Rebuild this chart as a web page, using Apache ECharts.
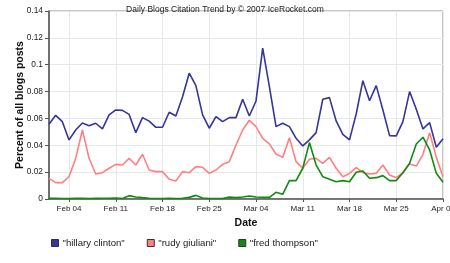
<!DOCTYPE html>
<html>
<head>
<meta charset="utf-8">
<script src="https://cdn.jsdelivr.net/npm/echarts@6/dist/echarts.min.js"></script>
<style>
html,body{margin:0;padding:0;background:#fff;}
#chart{width:450px;height:263px;}
</style>
</head>
<body>
<div id="chart"></div>
<script>
var dates = ["Feb 01","Feb 02","Feb 03","Feb 04","Feb 05","Feb 06","Feb 07","Feb 08","Feb 09","Feb 10",
"Feb 11","Feb 12","Feb 13","Feb 14","Feb 15","Feb 16","Feb 17","Feb 18","Feb 19","Feb 20",
"Feb 21","Feb 22","Feb 23","Feb 24","Feb 25","Feb 26","Feb 27","Feb 28","Mar 01","Mar 02",
"Mar 03","Mar 04","Mar 05","Mar 06","Mar 07","Mar 08","Mar 09","Mar 10","Mar 11","Mar 12",
"Mar 13","Mar 14","Mar 15","Mar 16","Mar 17","Mar 18","Mar 19","Mar 20","Mar 21","Mar 22",
"Mar 23","Mar 24","Mar 25","Mar 26","Mar 27","Mar 28","Mar 29","Mar 30","Mar 31","Apr 01"];

var tickLabels = ["Feb 04","Feb 11","Feb 18","Feb 25","Mar 04","Mar 11","Mar 18","Mar 25","Apr 01"];

var seriesNames = ["\"hillary clinton\"","\"rudy giuliani\"","\"fred thompson\""];

var clinton = [0.0557,0.0623,0.0576,0.044,0.0514,0.0566,0.0546,0.0564,0.0522,0.0626,
0.0663,0.066,0.063,0.0494,0.0606,0.058,0.0534,0.0534,0.0646,0.0618,
0.0762,0.0937,0.0844,0.0626,0.0527,0.0613,0.0576,0.0606,0.0606,0.0743,
0.0618,0.073,0.1123,0.0837,0.0539,0.0564,0.0539,0.0452,0.0395,0.044,
0.0494,0.0743,0.0755,0.0581,0.0482,0.044,0.0633,0.0881,0.0732,0.0844,
0.0663,0.0472,0.047,0.0576,0.08,0.0668,0.0522,0.0569,0.0385,0.0449];

var giuliani = [0.0154,0.0122,0.0122,0.0166,0.0303,0.0514,0.0303,0.0186,0.0196,0.0229,
0.0258,0.0253,0.0303,0.0253,0.0333,0.0216,0.0204,0.0204,0.0147,0.0134,
0.0204,0.0196,0.0241,0.0236,0.0191,0.0216,0.0258,0.0278,0.0402,0.0514,
0.0586,0.0539,0.0452,0.041,0.0335,0.031,0.0457,0.0278,0.0229,0.0296,
0.0303,0.0266,0.031,0.0229,0.0166,0.0191,0.0233,0.0196,0.0186,0.0191,
0.0253,0.0179,0.0159,0.0196,0.026,0.0245,0.0333,0.0494,0.031,0.0166];

var thompson = [0.0005,0.0005,0.0004,0.0004,0.0005,0.0005,0.0004,0.0005,0.0006,0.0006,
0.0008,0.0004,0.0025,0.0015,0.001,0.0006,0.0004,0.0004,0.0005,0.0004,
0.0005,0.0012,0.0027,0.0008,0.0004,0.0004,0.0004,0.0014,0.001,0.0015,
0.0022,0.0015,0.0013,0.0012,0.005,0.0035,0.0137,0.0137,0.0229,0.042,
0.0253,0.0166,0.0147,0.0129,0.0137,0.0129,0.0199,0.0209,0.0154,0.0159,
0.0174,0.0137,0.0137,0.0196,0.0266,0.041,0.046,0.0365,0.0191,0.0124];

var colors = ["#35359b","#ff8080","#118a11"];
var FONT = "Liberation Sans";

function isTick(i){ return tickLabels.indexOf(dates[i]) >= 0; }

var chart = echarts.init(document.getElementById('chart'), null, {renderer:'canvas'});
chart.setOption({
  animation:false,
  color: colors,
  title:{
    text:"Daily Blogs Citation Trend by \u00a9 2007 IceRocket.com",
    left:'center', top:0,
    textStyle:{fontFamily:FONT,fontSize:8.5,fontWeight:'normal',color:'#222'}
  },
  grid:{left:49,right:7,top:11,bottom:64,show:true,borderColor:'#8a8a8a',borderWidth:1,
    containLabel:false,outerBoundsMode:'none'},
  legend:{
    data:seriesNames, left:46, top:233, icon:'rect', itemWidth:7, itemHeight:7, itemGap:22,
    textStyle:{fontFamily:FONT,fontSize:9.6,color:'#222',padding:[0,0,0,-1]},
    itemStyle:{borderColor:'#333',borderWidth:1}
  },
  xAxis:{
    type:'category', data:dates, boundaryGap:false,
    name:'Date', nameLocation:'middle', nameGap:19,
    nameTextStyle:{fontFamily:FONT,fontSize:10.5,fontWeight:'bold',color:'#111'},
    axisLine:{lineStyle:{color:'#555',width:1.5}},
    axisTick:{show:true,length:3,interval:function(i){return isTick(i);},lineStyle:{color:'#555'}},
    axisLabel:{interval:function(i){return isTick(i);},fontFamily:FONT,fontSize:8,color:'#222',margin:6,
      showMaxLabel:true,hideOverlap:false},
    splitLine:{show:true,interval:function(i){return isTick(i);},lineStyle:{color:'#e8e8e8',width:1}}
  },
  yAxis:{
    type:'value', min:0, max:0.14, interval:0.02,
    name:'Percent of all blogs posts', nameLocation:'middle', nameGap:23.5, nameMoveOverlap:false,
    nameTextStyle:{fontFamily:FONT,fontSize:10.5,fontWeight:'bold',color:'#111'},
    axisLine:{show:true,lineStyle:{color:'#555',width:1.5}},
    axisTick:{show:true,length:4,lineStyle:{color:'#555'}},
    axisLabel:{fontFamily:FONT,fontSize:8.4,color:'#222',margin:6,
      formatter:function(v){return String(Math.round(v*100)/100);}},
    splitLine:{show:true,lineStyle:{color:'#e8e8e8',width:1}}
  },
  series:[
    {name:seriesNames[0],type:'line',data:clinton,symbol:'none',lineStyle:{width:1.6}},
    {name:seriesNames[1],type:'line',data:giuliani,symbol:'none',lineStyle:{width:1.6}},
    {name:seriesNames[2],type:'line',data:thompson,symbol:'none',lineStyle:{width:1.6}}
  ]
});
</script>
</body>
</html>
